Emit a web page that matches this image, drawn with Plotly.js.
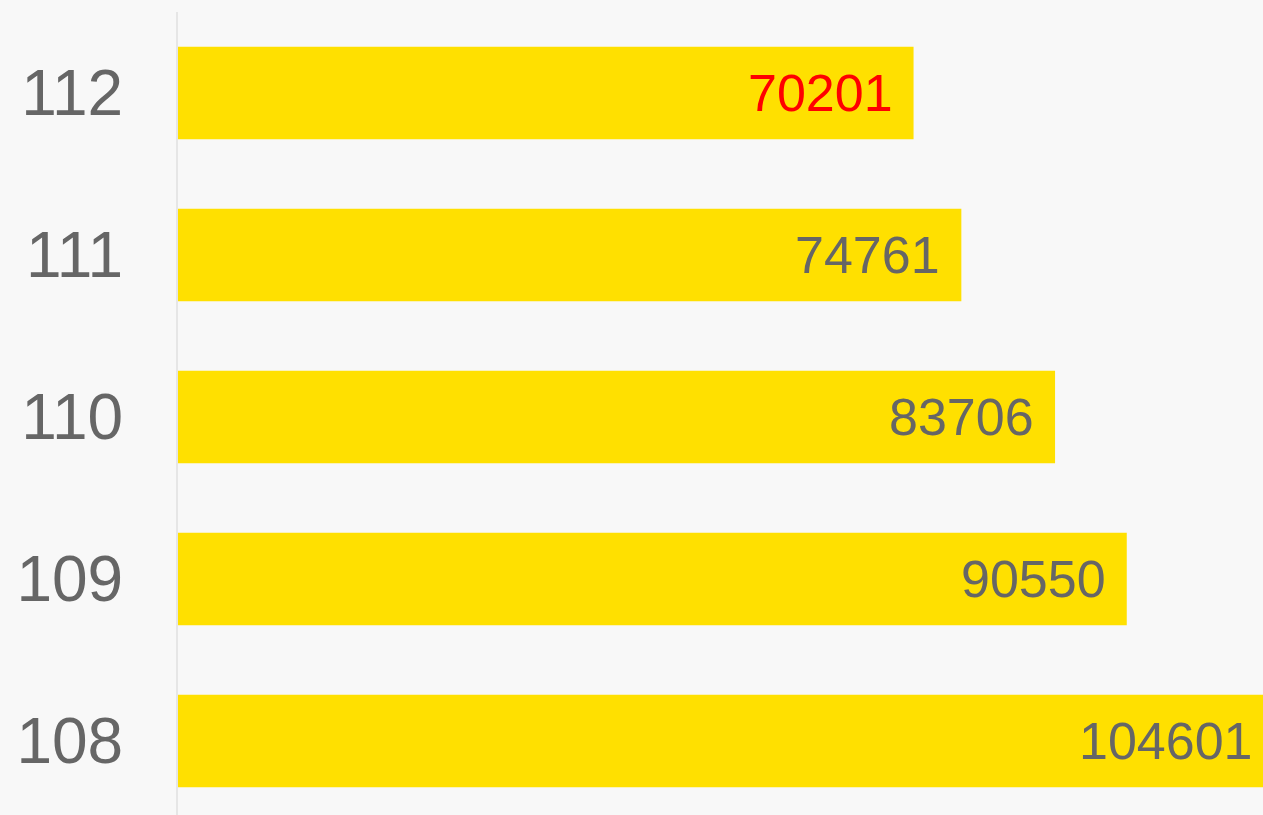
<!DOCTYPE html>
<html>
<head>
<meta charset="utf-8">
<script src="https://cdn.plot.ly/plotly-3.0.1.min.js"></script>
<style>
html,body{margin:0;padding:0;background:#f8f8f8;overflow:hidden;width:1263px;height:815px;}
#chart{width:1274px;height:822px;}
</style>
</head>
<body>
<div id="chart"></div>
<script>
var categories = ["108", "109", "110", "111", "112"];
var values = [104601, 90550, 83706, 74761, 70201];
var labelColors = ["#666666", "#666666", "#666666", "#666666", "#ff0000"];

var trace = {
  type: "bar",
  orientation: "h",
  y: categories,
  x: values,
  marker: {color: "#ffe000"},
  hoverinfo: "none"
};

var annotations = categories.map(function (c, i) {
  return {
    x: values[i], y: i, xref: "x", yref: "y",
    text: String(values[i]),
    showarrow: false,
    xanchor: "right", yanchor: "middle",
    xshift: -19, yshift: 0,
    font: {family: "Liberation Sans, Arial, sans-serif", size: 52, color: labelColors[i]}
  };
});

var layout = {
  width: 1274, height: 822,
  margin: {l: 178, r: 0, t: 12, b: 0, pad: 0},
  paper_bgcolor: "#f8f8f8",
  plot_bgcolor: "#f8f8f8",
  bargap: 0.428,
  showlegend: false,
  xaxis: {range: [0, 104601], showgrid: false, zeroline: false, showticklabels: false, showline: false, fixedrange: true},
  yaxis: {
    type: "category",
    categoryorder: "array", categoryarray: categories,
    range: [-0.5, 4.5],
    showgrid: false, zeroline: false,
    showline: true, linecolor: "#e6e6e6", linewidth: 2,
    ticks: "", ticklabelstandoff: 40,
    tickfont: {family: "Liberation Sans, Arial, sans-serif", size: 64, color: "#666666"},
    fixedrange: true
  },
  annotations: annotations
};

Plotly.newPlot("chart", [trace], layout, {displayModeBar: false, staticPlot: true});
</script>
</body>
</html>
